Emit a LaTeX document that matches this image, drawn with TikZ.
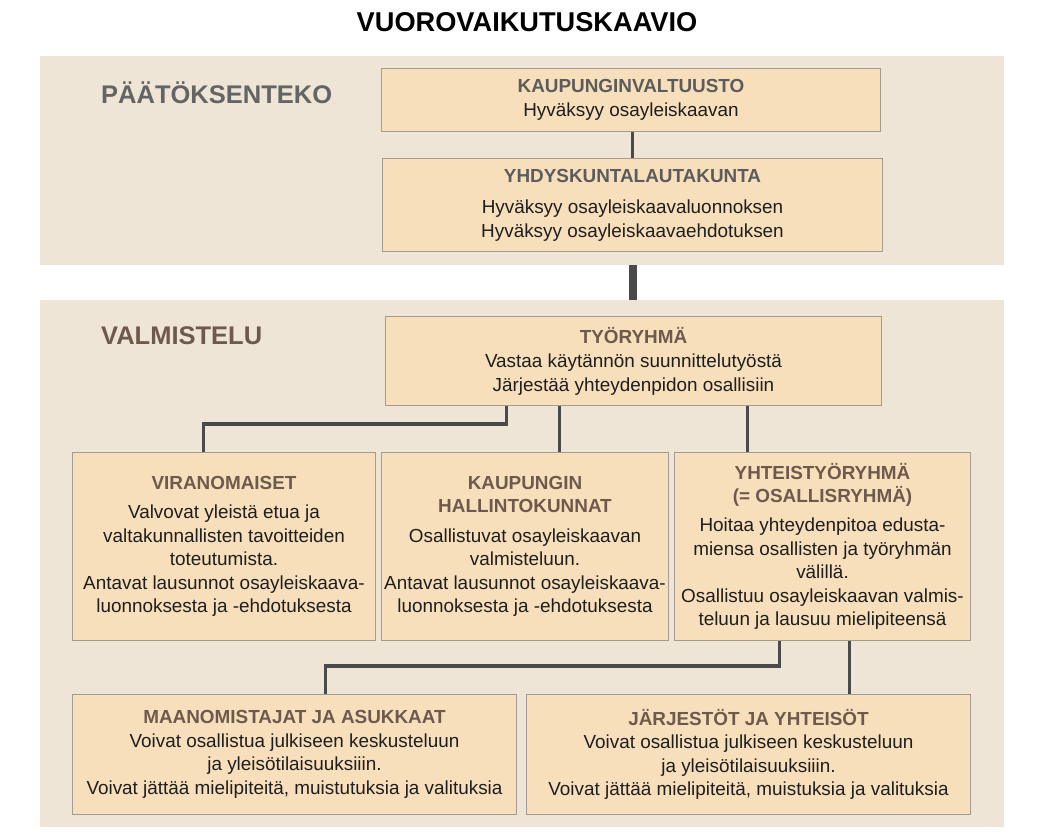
\documentclass[tikz,border=0pt]{standalone}
\usepackage{fontspec}
\setmainfont{Liberation Sans}
\definecolor{panel}{HTML}{EFE5D7}
\definecolor{boxfill}{HTML}{F7DFBC}
\definecolor{boxline}{HTML}{A39A92}
\definecolor{conn}{HTML}{4A4A4A}
\definecolor{headbrown}{HTML}{6E5A4D}
\definecolor{headgray}{HTML}{5C5C5C}
\definecolor{secgray}{HTML}{646464}
\definecolor{bodytext}{HTML}{1E1E1E}
\newcommand{\boxhead}[1]{\textcolor{headbrown}{\bfseries #1}}
\newcommand{\boxheadgray}[1]{\textcolor{headgray}{\bfseries #1}}
\tikzset{
  panelbox/.style={fill=panel, draw=none, inner sep=0pt, anchor=north west},
  orgbox/.style={fill=boxfill, draw=boxline, line width=1pt, inner sep=0pt,
    anchor=north west, align=center, text=bodytext,
    font=\fontsize{18.9}{23.5}\selectfont},
  link/.style={draw=conn, line width=3.5pt},
  seclabel/.style={anchor=west, inner sep=0pt, font=\fontsize{25.5}{30}\selectfont\bfseries},
}
\begin{document}
\begin{tikzpicture}[x=1pt, y=-1pt]
\useasboundingbox (0,0) rectangle (1040,835);
\fill[white] (0,0) rectangle (1040,835);

% title
\node[inner sep=0pt, font=\fontsize{27.2}{30}\selectfont\bfseries] (title) at (527,22) {VUOROVAIKUTUSKAAVIO};

% panels
\node[panelbox, minimum width=964pt, minimum height=209pt] (p1) at (40,56) {};
\node[panelbox, minimum width=964pt, minimum height=527pt] (p2) at (40,300) {};

\node[seclabel, text=secgray] (lab1) at (101,93) {PÄÄTÖKSENTEKO};
\node[seclabel, text=headbrown] (lab2) at (101,336) {VALMISTELU};

% decision boxes
\node[orgbox, minimum width=499pt, minimum height=63pt] (kaup) at (381,68)
  {\boxheadgray{KAUPUNGINVALTUUSTO}\\[1pt] Hyväksyy osayleiskaavan};
\node[orgbox, minimum width=500pt, minimum height=93pt] (yhdy) at (382,158)
  {\boxheadgray{YHDYSKUNTALAUTAKUNTA}\\[8pt] Hyväksyy osayleiskaavaluonnoksen\\ Hyväksyy osayleiskaavaehdotuksen};

% preparation boxes
\node[orgbox, minimum width=496pt, minimum height=89pt] (tyo) at (385,316)
  {\boxhead{TYÖRYHMÄ}\\[1pt] Vastaa käytännön suunnittelutyöstä\\ Järjestää yhteydenpidon osallisiin};

\node[orgbox, minimum width=303pt, minimum height=188pt] (viran) at (72,452)
  {\boxhead{VIRANOMAISET}\\[5.5pt] Valvovat yleistä etua ja\\ valtakunnallisten tavoitteiden\\ toteutumista.\\ Antavat lausunnot osayleiskaava-\\ luonnoksesta ja -ehdotuksesta};
\node[orgbox, minimum width=287pt, minimum height=188pt] (hall) at (381,452)
  {\boxhead{KAUPUNGIN}\\ \boxhead{HALLINTOKUNNAT}\\[6pt] Osallistuvat osayleiskaavan\\ valmisteluun.\\ Antavat lausunnot osayleiskaava-\\ luonnoksesta ja -ehdotuksesta};
\node[orgbox, minimum width=296pt, minimum height=188pt] (yht) at (674,452)
  {\boxhead{YHTEISTYÖRYHMÄ}\\ \boxhead{(= OSALLISRYHMÄ)}\\[5.5pt] Hoitaa yhteydenpitoa edusta-\\ miensa osallisten ja työryhmän\\ välillä.\\ Osallistuu osayleiskaavan valmis-\\ teluun ja lausuu mielipiteensä};

\node[orgbox, minimum width=444pt, minimum height=120pt] (maan) at (72,694)
  {\boxhead{MAANOMISTAJAT JA ASUKKAAT}\\ Voivat osallistua julkiseen keskusteluun\\ ja yleisötilaisuuksiiin.\\ Voivat jättää mielipiteitä, muistutuksia ja valituksia};
\node[orgbox, minimum width=444pt, minimum height=120pt] (jar) at (526,694)
  {\boxhead{JÄRJESTÖT JA YHTEISÖT}\\ Voivat osallistua julkiseen keskusteluun\\ ja yleisötilaisuuksiiin.\\ Voivat jättää mielipiteitä, muistuksia ja valituksia};

% connectors
\draw[link] ([xshift=1.5pt]kaup.south) -- ([xshift=1.5pt]kaup.south |- yhdy.north);
\draw[draw=conn, line width=8pt] (p1.south -| yhdy.south) -- (p2.north -| yhdy.south);

\draw[link] ([xshift=-127pt]tyo.south) -- ++(0,18) -| ([xshift=-20.5pt]viran.north);
\draw[link] ([xshift=-74pt]tyo.south) -- ([xshift=34.5pt]hall.north);
\draw[link] ([xshift=114pt]tyo.south) -- ([xshift=-75pt]yht.north);

\draw[link] ([xshift=-43pt]yht.south) -- ++(0,25) -| ([xshift=31pt]maan.north);
\draw[link] ([xshift=27pt]yht.south) -- ([xshift=101pt]jar.north);
\end{tikzpicture}
\end{document}
